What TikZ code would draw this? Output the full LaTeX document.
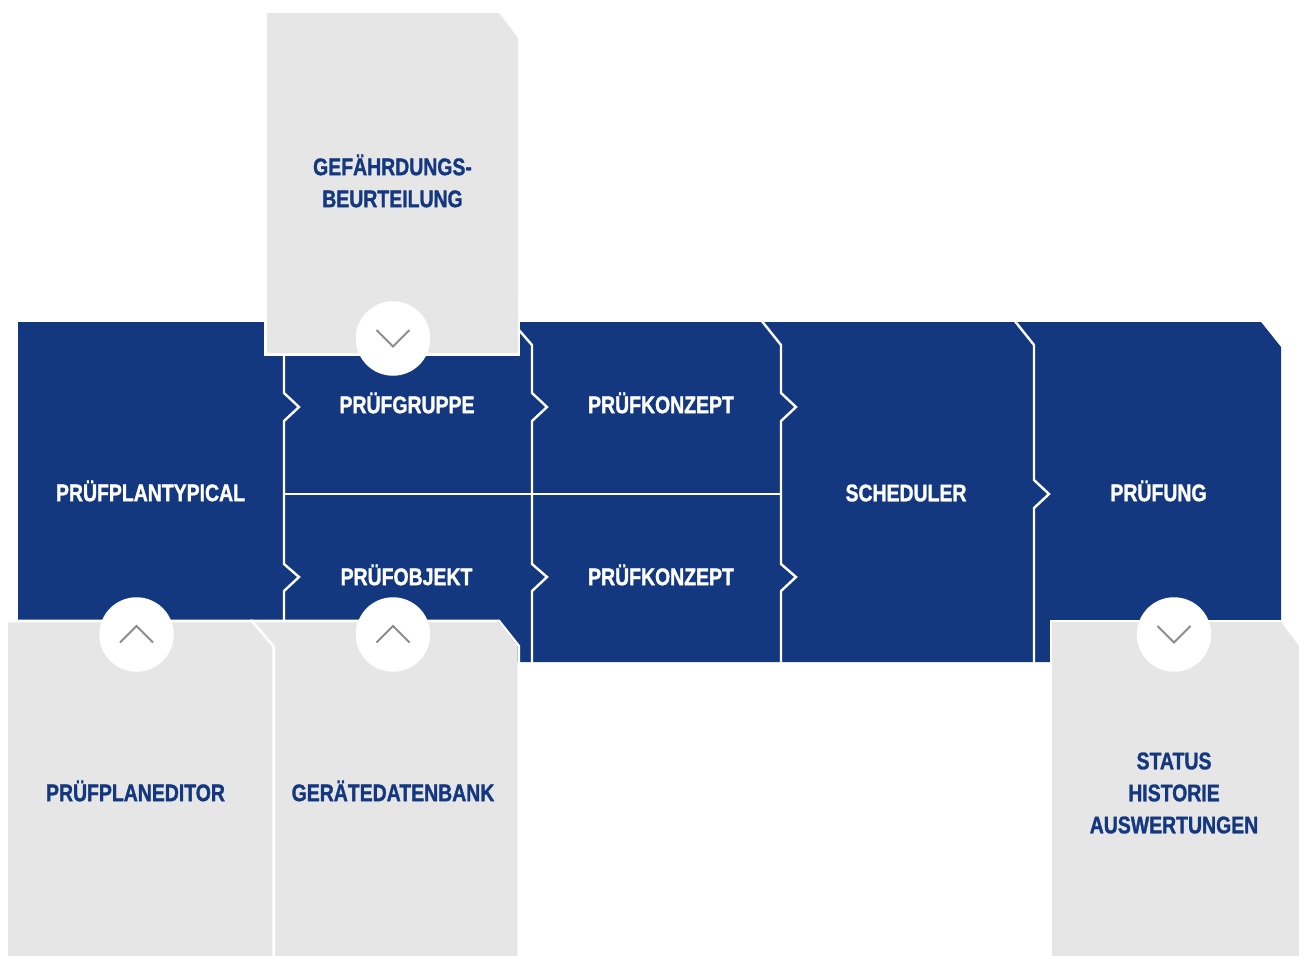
\documentclass[tikz,border=0pt]{standalone}
\usepackage{fontspec}
\setmainfont{Liberation Sans}[FakeStretch=0.81,BoldFeatures={FakeBold=1.3}]
\definecolor{navy}{HTML}{14387F}
\definecolor{panel}{HTML}{E6E6E6}
\definecolor{mark}{HTML}{8C8C8C}
\tikzset{
  bluetext/.style={font=\fontsize{24}{32}\selectfont\bfseries,text=navy,align=center,inner sep=0pt},
  whitetext/.style={font=\fontsize{24}{32}\selectfont\bfseries,text=white,align=center,inner sep=0pt},
  divider/.style={draw=white,line width=2.4pt,line join=miter},
  panelshape/.style={fill=panel},
  panelrim/.style={draw=white,line width=2.6pt,line join=miter},
  disc/.style={circle,fill=white,minimum size=74.5pt,inner sep=0pt},
  chev/.style={draw=mark,line width=2pt,line join=miter}
}
\begin{document}
\begin{tikzpicture}[x=1pt,y=-1pt]
\useasboundingbox (0,0) rectangle (1299,956);
% blue band
\fill[navy] (18,322) -- (1261,322) -- (1281,347) -- (1281,630) -- (1050,630) -- (1050,662) -- (500,662) -- (500,630) -- (18,630) -- cycle;
% dividers
\draw[divider] (284,350) -- (284,393) -- (299,407) -- (284,421) -- (284,564) -- (299,577) -- (284,591) -- (284,625);
\draw[divider] (518,329) -- (532,345) -- (532,393) -- (547,407) -- (532,421) -- (532,564) -- (547,577) -- (532,591) -- (532,663);
\draw[divider] (761,320) -- (781,345) -- (781,393) -- (796,407) -- (781,421) -- (781,564) -- (796,577) -- (781,591) -- (781,663);
\draw[divider] (1014,320) -- (1034,345) -- (1034,480) -- (1049,494) -- (1034,508) -- (1034,663);
\draw[divider] (284,494) -- (781,494);
% panel: top
\fill[white] (264,300) rectangle (520,356);
\fill[panelshape] (267,13) -- (499,13) -- (518,38) -- (518,353) -- (267,353) -- cycle;
% panel: middle
\fill[panelshape] (250,622) -- (498,622) -- (517.5,646.5) -- (517.5,956) -- (250,956) -- cycle;
\draw[panelrim] (250,621) -- (499,621) -- (518.8,646) -- (518.8,958);
% panel: left
\fill[panelshape] (8,622) -- (252,622) -- (272,646) -- (272,956) -- (8,956) -- cycle;
\draw[panelrim] (8,621) -- (252,621) -- (273.7,646.5) -- (273.7,958);
% panel: right
\fill[panelshape] (1052,622) -- (1281,622) -- (1299,646) -- (1299,956) -- (1052,956) -- cycle;
\draw[panelrim] (1051,664) -- (1051,621) -- (1281,621);
% discs and chevrons
\node[disc] (dgef) at (393,338.5) {};
\node[disc] (dedit) at (136.5,634.5) {};
\node[disc] (dgeraet) at (393,634.5) {};
\node[disc] (dstatus) at (1174,634.5) {};
\draw[chev] (376.5,330) -- (393,346.5) -- (409.5,330);
\draw[chev] (120,642.5) -- (136.5,626) -- (153,642.5);
\draw[chev] (376.5,642.5) -- (393,626) -- (409.5,642.5);
\draw[chev] (1157.5,626) -- (1174,642.5) -- (1190.5,626);
% labels
\node[whitetext] (typ) at (150.5,491) {PRÜFPLANTYPICAL};
\node[whitetext] (grp) at (407,403) {PRÜFGRUPPE};
\node[whitetext] (kz1) at (661,403) {PRÜFKONZEPT};
\node[whitetext] (obj) at (406.5,575) {PRÜFOBJEKT};
\node[whitetext] (kz2) at (661,575) {PRÜFKONZEPT};
\node[whitetext] (sch) at (906,493) {SCHEDULER};
\node[whitetext] (prf) at (1158.5,491) {PRÜFUNG};
\node[bluetext] (gef) at (392.5,181) {GEFÄHRDUNGS-\\BEURTEILUNG};
\node[bluetext] (edt) at (135.5,791) {PRÜFPLANEDITOR};
\node[bluetext] (ger) at (393,791) {GERÄTEDATENBANK};
\node[bluetext] (sta) at (1174,793) {STATUS\\HISTORIE\\AUSWERTUNGEN};
\end{tikzpicture}
\end{document}
